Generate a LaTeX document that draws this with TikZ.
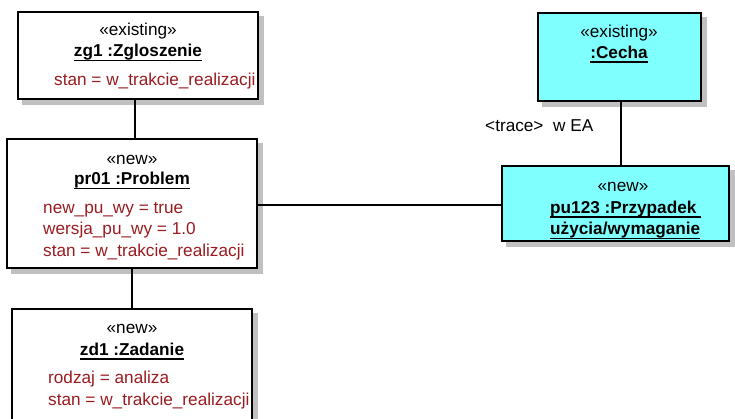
\documentclass[tikz,border=0pt]{standalone}
\usepackage{fontspec}
\setmainfont{Liberation Sans}
\usetikzlibrary{backgrounds}
\definecolor{attrred}{RGB}{155,28,32}
\definecolor{objcyan}{RGB}{128,255,255}
\definecolor{shadowgray}{RGB}{192,192,192}
% underlined object name with a thick rule below the baseline
\newcommand\ulbox[1]{\setbox0\hbox{#1}\rlap{\rule[-4.5pt]{\wd0}{1.6pt}}\box0}
\begin{document}
\begin{tikzpicture}[x=1pt,y=-1pt,font=\fontsize{17.2}{20}\selectfont]
\tikzset{
  objbox/.style={draw=black, line width=1.3pt, fill=white, inner sep=0pt},
  cyanbox/.style={objbox, fill=objcyan},
  boxshadow/.style={fill=shadowgray},
  stereo/.style={anchor=base, inner sep=0pt},
  oname/.style={anchor=base, inner sep=0pt, font=\fontsize{17.2}{20}\selectfont\bfseries},
  attr/.style={anchor=base west, inner sep=0pt, text=attrred},
  link/.style={draw=black, line width=1.1pt},
}
\useasboundingbox (0,0) rectangle (735,419);
\clip (0,0) rectangle (735,419);

% object boxes
\node[objbox, minimum width=240pt, minimum height=87pt] (zg1) at (138,55.5) {};
\node[objbox, minimum width=250pt, minimum height=129pt] (pr01) at (132,203.5) {};
\node[objbox, minimum width=240pt, minimum height=132pt] (zd1) at (132,375) {};
\node[cyanbox, minimum width=163pt, minimum height=88pt] (cecha) at (619.5,57) {};
\node[cyanbox, minimum width=227pt, minimum height=75pt] (pu123) at (615.5,203.5) {};

% grey drop shadows behind the boxes
\begin{pgfonlayer}{background}
  \foreach \b in {zg1,pr01,zd1,cecha,pu123}
    \fill[boxshadow] ([shift={(5,5)}]\b.south west) rectangle ([shift={(5,5)}]\b.north east);
\end{pgfonlayer}

% zg1 :Zgloszenie
\node[stereo] (zg1st) at (138,36) {«existing»};
\node[oname] (zg1nm) at (138,57) {\ulbox{zg1 :Zgloszenie}};
\node[attr] (zg1a1) at (54,86) {stan = w\_trakcie\_realizacji};

% pr01 :Problem
\node[stereo] (pr01st) at (132,164.5) {«new»};
\node[oname] (pr01nm) at (132,185) {\ulbox{pr01 :Problem}};
\node[attr] (pr01a1) at (43,214) {new\_pu\_wy = true};
\node[attr] (pr01a2) at (43,235) {wersja\_pu\_wy = 1.0};
\node[attr] (pr01a3) at (43,256.5) {stan = w\_trakcie\_realizacji};

% zd1 :Zadanie
\node[stereo] (zd1st) at (132,333.5) {«new»};
\node[oname] (zd1nm) at (132,355) {\ulbox{zd1 :Zadanie}};
\node[attr] (zd1a1) at (48,383.5) {rodzaj = analiza};
\node[attr] (zd1a2) at (48,405) {stan = w\_trakcie\_realizacji};

% :Cecha
\node[stereo] (cechast) at (619,37.5) {«existing»};
\node[oname] (cechanm) at (619,58.5) {\ulbox{:Cecha}};

% pu123 :Przypadek uzycia/wymaganie
\node[stereo] (pu123st) at (623,191.5) {«new»};
\node[oname, anchor=base west] (pu123nm1) at (550,213.5) {\ulbox{pu123 :Przypadek\ }};
\node[oname, anchor=base west] (pu123nm2) at (550,235) {\ulbox{użycia/wymaganie}};

% trace note
\node[anchor=base west, inner sep=0pt] (trace) at (485,131.5) {<trace>\ \ w EA};

% links
\draw[link] ([xshift=-3pt]zg1.south) -- ([xshift=-3pt]zg1.south |- pr01.north);
\draw[link] (pr01.south) -- (zd1.north);
\draw[link] ([yshift=-1.5pt]pr01.east) -- ([yshift=-1.5pt]pu123.west);
\draw[link] ([xshift=1.5pt]cecha.south) -- ([xshift=1.5pt]cecha.south |- pu123.north);
\end{tikzpicture}
\end{document}
